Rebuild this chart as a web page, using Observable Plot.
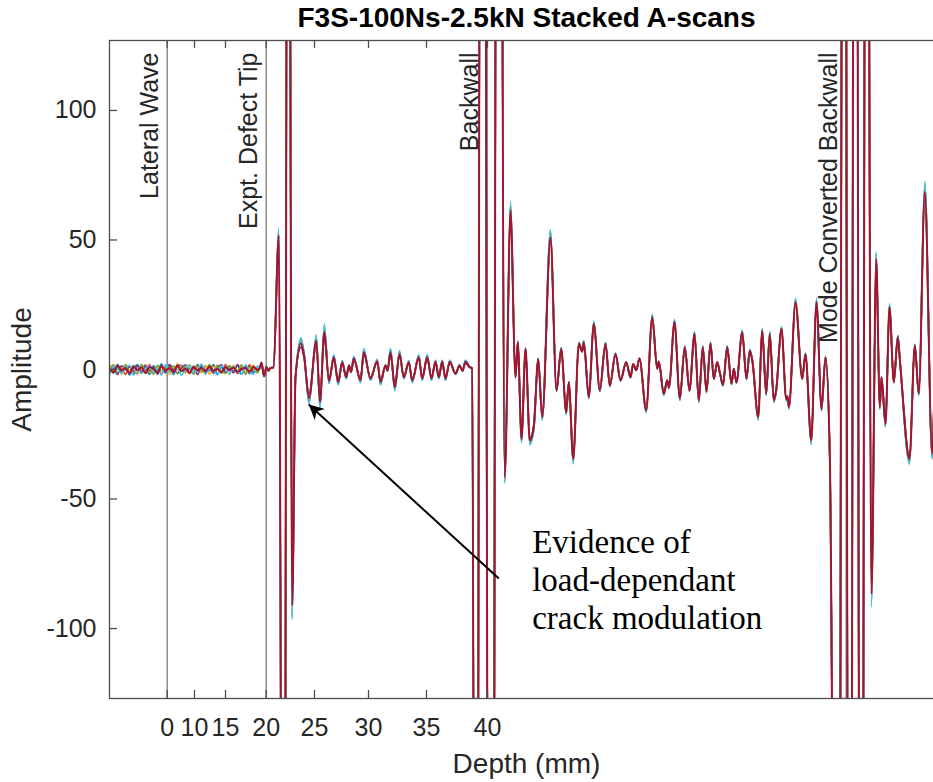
<!DOCTYPE html>
<html>
<head>
<meta charset="utf-8">
<script src="https://cdn.jsdelivr.net/npm/d3@7"></script>
<script src="https://cdn.jsdelivr.net/npm/@observablehq/plot@0.6"></script>
<style>
  html, body { margin: 0; background: #fff; overflow: hidden; }
  #wrap { width: 933px; height: 782px; overflow: hidden; }
  #wrap svg { max-width: none !important; }
</style>
</head>
<body>
<div id="wrap"></div>
<script>
// ---------------- data ----------------
const chartTitle = "F3S-100Ns-2.5kN Stacked A-scans";
const xLabel = "Depth (mm)";
const yLabel = "Amplitude";

// x tick positions (sample index) and their depth labels
const xTickPos = [57.7, 85, 116, 156.7, 205, 259, 317, 378];
const xTickLabels = ["0", "10", "15", "20", "25", "30", "35", "40"];
const yTicks = [-100, -50, 0, 50, 100];

// marker lines
const markerPos = [57.7, 156.7, 377.7, 736.7];
const markerLabels = ["Lateral Wave", "Expt. Defect Tip", "Backwall", "Mode Converted Backwall"];

// trace colours (stacked A-scans, last one drawn on top)
const traceColors = ["#0072BD", "#D95319", "#EDB120", "#7E2F8E", "#77AC30", "#4DBEEE", "#A2142F"];

// pre-signal noise per trace (sample step 4, from sample 0)
const noiseStep = 4;
const noise1 = [1.0,-1.4,1.9,-0.6,1.3,-2.1,0.5,1.8,-1.1,0.8,-1.8,1.4,-0.3,2.1,-1.3,0.6,-1.9,1.1,1.6,-0.8,0.3,-1.6,1.9,-1.0,1.3,-0.5,1.8,-1.9,0.8,-1.1,1.4,-0.6,1.6,-1.8,0.5,1.1,-1.4,0.6];
const noise2 = [-0.8,1.8,-1.3,0.5,-1.9,1.4,-0.6,-1.6,1.1,-0.3,1.9,-1.0,1.3,-1.8,0.6,1.4,-1.1,2.1,-0.5,1.0,-1.6,1.3,-0.8,1.8,-1.4,0.3,-1.0,1.6,-1.3,1.9,-0.5,1.1,-1.6,0.8,-1.0,1.8,-0.6,0.3];
const noise3 = [1.6,-0.5,0.8,-1.8,1.9,-0.3,1.4,-1.3,0.3,1.8,-0.8,-1.4,1.0,-0.6,1.6,-1.9,0.5,-0.2,1.3,-1.4,1.9,-0.6,0.8,-1.3,1.6,-1.8,1.0,0.3,-1.4,0.6,-1.9,1.6,-0.5,1.3,-1.1,-0.3,1.6,-0.8];
const noise4 = [-1.3,0.6,-1.9,1.4,-0.2,1.0,-1.6,1.3,-0.8,1.6,-0.5,0.8,-1.8,1.1,-1.0,1.9,-0.3,-1.3,0.6,1.8,-1.1,0.5,-1.9,1.4,-0.2,1.1,-1.4,0.8,1.8,-1.0,0.5,-1.3,1.9,-0.3,1.4,-1.6,1.0,-0.5];
const noise5 = [0.5,1.6,-1.0,-0.3,1.8,-1.4,1.6,-0.6,1.9,-1.1,0.2,-1.9,1.6,-0.5,1.0,-0.8,1.4,-1.6,-0.6,1.3,0.5,-1.8,1.4,-0.3,-1.1,1.9,-0.8,1.3,-0.6,-1.6,1.1,0.5,-1.0,1.8,-1.9,0.8,0.3,-1.3];
const noise6 = [-2.1,1.1,0.3,-1.4,0.8,1.6,-2.2,0.6,-1.6,0.5,1.4,-1.0,0.3,-2.1,1.8,-0.2,-1.4,1.0,-2.2,0.3,1.6,-1.1,-0.3,2.1,-1.9,0.8,-0.2,-2.1,1.4,0.2,-1.6,1.0,-0.8,-1.9,1.8,-1.0,-1.8,1.4];
const noise7 = [0.3,-1.0,1.4,-0.5,0.6,-1.3,1.1,-0.2,0.8,-1.4,1.0,0.2,-1.1,1.3,-0.3,0.5,-1.0,1.4,-0.6,0.3,-1.3,1.0,-0.2,0.6,-0.8,1.3,-0.5,0.2,-1.1,1.0,-0.3,0.8,-1.0,0.3,0.6,-0.8,1.1,-0.2];
const noiseSets = [noise1, noise2, noise3, noise4, noise5, noise6, noise7];

// main waveform: sample index and amplitude of peaks / troughs
const waveSample = [150,152,154.5,157,159,161,164,169.3,174.2,178.6,182.7,186,191.5,194.5,199.5,206.8,210.5,214.8,219.5,224.3,228.7,232.7,236.7,239.5,241.5,244.3,251,254.3,261,267.7,271,276,278,281,285.3,290,294.3,299.3,302.7,309.3,312.7,317.7,322,326,329.3,332.7,336,340.3,346,350,353,356,360,362.5,366.5,372.7,381.5,389,395.3,401,406,408.3,412,416,420.3,424.3,428.7,432.7,441,447,451.7,456.7,459.3,463.7,469.3,472.7,474.3,479.3,484.3,490.3,496,500.3,506,511,516.7,521,523.7,526.7,530,536.7,542.7,547.7,549.3,554.3,557.7,559.5,565,570.3,575.3,580,585,589.3,593.3,597,601,604.3,607.7,610.5,613.5,617.7,622,624.3,627,632.7,637,640.3,643,648.7,652.7,656.7,660.3,664.3,666.7,672,676.7,678,679.5,686,692.7,696,701.7,707,712,716,720.3,728.5,734.5,740.2,745.8,751.7,757,762,766.7,770.3,772,776,780,784.3,788.3,790.5,800,805.3,809.3,815.3,822.7,826,830];
const waveAmp = [0.3,2.6,-2.6,1.0,-0.5,0.6,0.8,51.7,-450,420,-91,-3,10,5.5,-11,11,-12.5,14.5,-4.5,4.7,-4.9,2.8,-3,1.5,-1.0,4.2,-4.2,6.7,-3.5,3.2,-4.9,1.5,-0.5,6.7,-6.8,6,-3,2.8,-4.2,4.7,-3.5,4.7,-3.5,3,-3,3,-3.5,3,-1.6,1.5,-0.5,3,1.0,0.5,-450,600,-600,550,-41.6,61.4,-3,10.5,-26.8,8,-27.4,-22,4.1,-18.4,51,-8.1,8,-16.5,-4.9,-34.5,9.9,7,10.5,-10.7,17.6,-8.1,9.9,-6.2,6,-4.2,2.8,-3,2.1,-0.3,4.2,-15.8,20.2,0.3,3,-9.4,-4.2,-7,18.3,-11.3,8.6,-8.1,13.8,-12,8.6,-8.5,10,-3.6,2.8,-1.5,-6,8.6,-5.5,0.3,-5,14.4,-3.6,7.3,3,-18.4,15,-9.4,13.8,-12,-8,15.7,-11.5,-10.5,-14.5,26,-3.6,6,-27.4,26,-15.2,4.7,-33.2,-450,480,-480,480,-460,420,-86.6,42.7,-14.5,-3,-21,24,-4.9,12.5,3,-34.5,9.3,-9.4,68.5,-32.6,3,10];

// per-trace amplitude gain (load dependence): crack-tip region vs elsewhere
const crackRegion = [186, 362];
const gainCrack = [1.16, 0.88, 1.08, 0.86, 1.12, 1.22, 1.0];
const gainOther = [1.04, 0.97, 1.02, 0.98, 1.05, 1.06, 1.0];

// annotation
const annotationText = "Evidence of\nload-dependant\ncrack modulation";
const annotationPos = [422.7, -60.3];
const arrowFrom = [389.3, -80.7];
const arrowTo = [199.3, -13.5];

// ---------------- build traces ----------------
const traces = traceColors.map((c, i) => {
  const pts = noiseSets[i]
    .map((v, k) => ({s: k * noiseStep, v}))
    .filter(d => d.s < waveSample[0]);
  waveSample.forEach((s, k) => {
    const a = waveAmp[k];
    const g = (s >= crackRegion[0] && s <= crackRegion[1]) ? gainCrack[i] : gainOther[i];
    pts.push({s, v: Math.abs(a) > 127 ? a : a * g});
  });
  return pts;
});

const axisColor = "#4d4d4d";
const textColor = "#262626";

const chart = Plot.plot({
  width: 943,
  height: 782,
  marginLeft: 109,
  marginRight: 0,
  marginTop: 40,
  marginBottom: 84,
  style: {fontFamily: "'Liberation Sans', Arial, Helvetica, sans-serif", background: "#fff", maxWidth: "none"},
  x: {domain: [0, 834], axis: null},
  y: {domain: [-127, 127], axis: null},
  marks: [
    Plot.ruleX(markerPos, {x: d => d, stroke: "#8c8c8c", strokeWidth: 1.5}),
    ...traces.map((pts, i) => Plot.line(pts, {
      x: "s", y: "v", stroke: traceColors[i],
      strokeWidth: i === traces.length - 1 ? 2 : 1.6,
      curve: "monotone-x", clip: true
    })),
    Plot.frame({stroke: axisColor, strokeWidth: 1.3}),
    Plot.tickX(xTickPos, {x: d => d, insetTop: 650, stroke: axisColor, strokeWidth: 1.3}),
    Plot.tickX(xTickPos, {x: d => d, insetBottom: 650, stroke: axisColor, strokeWidth: 1.3}),
    Plot.tickY(yTicks, {y: d => d, insetRight: 826, stroke: axisColor, strokeWidth: 1.3}),
    Plot.axisX(xTickPos, {
      tickSize: 0, tickPadding: 20, fontSize: 25, fill: textColor, label: null,
      tickFormat: d => xTickLabels[xTickPos.indexOf(d)]
    }),
    Plot.axisY(yTicks, {
      tickSize: 0, tickPadding: 13, fontSize: 25, fill: textColor, label: null,
      tickFormat: d => String(d)
    }),
    Plot.text(markerLabels, {
      x: (d, i) => markerPos[i], frameAnchor: "top", dy: 12, dx: -9.5,
      rotate: -90, textAnchor: "end", lineAnchor: "bottom",
      fontSize: 25, fill: textColor
    }),
    Plot.text([chartTitle], {
      frameAnchor: "top", dy: -22, textAnchor: "middle", lineAnchor: "middle",
      fontSize: 28, fontWeight: "bold", fill: "#000"
    }),
    Plot.text([xLabel], {
      frameAnchor: "bottom", dy: 66, textAnchor: "middle", lineAnchor: "middle",
      fontSize: 28, fill: textColor
    }),
    Plot.text([yLabel], {
      frameAnchor: "left", dx: -87, rotate: -90, textAnchor: "middle", lineAnchor: "middle",
      fontSize: 28, fill: textColor
    }),
    Plot.text([annotationText], {
      x: () => annotationPos[0], y: () => annotationPos[1],
      textAnchor: "start", lineAnchor: "top", lineHeight: 1.16,
      fontFamily: "'Liberation Serif', 'Times New Roman', serif", fontSize: 33, fill: "#000"
    }),
    Plot.link([0], {
      x1: () => arrowFrom[0], y1: () => arrowFrom[1],
      x2: () => arrowTo[0], y2: () => arrowTo[1],
      stroke: "#000", strokeWidth: 2
    })
  ]
});

// filled arrowhead for the annotation arrow
const svg = d3.select(chart);
svg.style("max-width", "none");
const defs = svg.insert("defs", ":first-child");
defs.append("marker")
  .attr("id", "annHead")
  .attr("viewBox", "0 0 10 10")
  .attr("refX", 10).attr("refY", 5)
  .attr("markerWidth", 19).attr("markerHeight", 15)
  .attr("markerUnits", "userSpaceOnUse")
  .attr("orient", "auto")
  .append("path")
  .attr("d", "M0,0 L10,5 L0,10 L3,5 Z")
  .attr("fill", "#000");
svg.selectAll('g[aria-label="link"] path').attr("marker-end", "url(#annHead)");

document.getElementById("wrap").appendChild(chart);
</script>
</body>
</html>
